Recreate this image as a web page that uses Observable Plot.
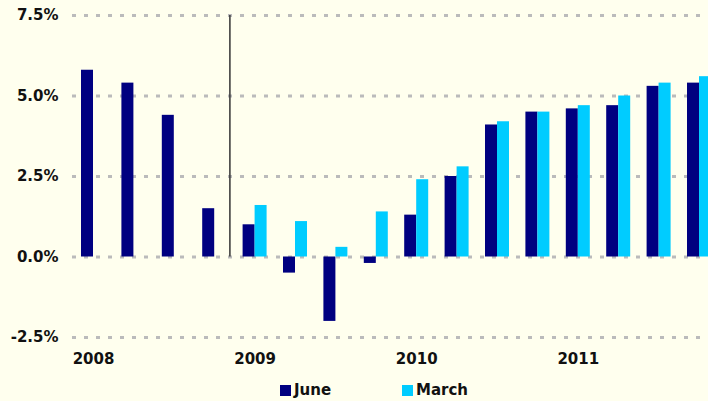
<!DOCTYPE html>
<html>
<head>
<meta charset="utf-8">
<script src="https://cdn.jsdelivr.net/npm/d3@7"></script>
<script src="https://cdn.jsdelivr.net/npm/@observablehq/plot@0.6"></script>
<style>
  html, body { margin: 0; padding: 0; background: #FFFFEE; }
  #wrap { position: relative; width: 708px; height: 401px; overflow: hidden; background: #FFFFEE; }
  #legend { position: absolute; left: 0; top: 378px; width: 708px; height: 23px;
            font-family: "DejaVu Sans", Verdana, sans-serif; font-weight: bold; font-size: 15px; color: #111; }
  .sw { position: absolute; top: 7px; width: 11px; height: 11px; }
  .lt { position: absolute; top: 3px; line-height: 18px; }
</style>
</head>
<body>
<div id="wrap"><div id="chart"></div><div id="legend"></div></div>
<script>
const quarters = ["2008Q1","2008Q2","2008Q3","2008Q4","2009Q1","2009Q2","2009Q3","2009Q4",
                  "2010Q1","2010Q2","2010Q3","2010Q4","2011Q1","2011Q2","2011Q3","2011Q4"];
const june  = [5.8, 5.4, 4.4, 1.5, 1.0, -0.5, -2.0, -0.2, 1.3, 2.5, 4.1, 4.5, 4.6, 4.7, 5.3, 5.4];
const march = [null, null, null, null, 1.6, 1.1, 0.3, 1.4, 2.4, 2.8, 4.2, 4.5, 4.7, 5.0, 5.4, 5.6];
const years = ["2008", "2009", "2010", "2011"];
const yTicks = [-2.5, 0, 2.5, 5, 7.5];
const seriesNames = ["June", "March"];
const seriesColors = ["#000080", "#00CCFF"];

const rows = quarters.map((q, i) => ({q, i, june: june[i], march: march[i]}));
const yearRows = years.map(y => ({year: y, i: quarters.indexOf(y + "Q1")}));
const barW = 0.297;

const chart = Plot.plot({
  width: 708,
  height: 378,
  marginTop: 15,
  marginBottom: 41,
  marginLeft: 72,
  marginRight: 0,
  style: {background: "#FFFFEE", fontFamily: "DejaVu Sans, Verdana, sans-serif", fontWeight: "bold", fontSize: "15px", color: "#111"},
  x: {type: "linear", domain: [0, 15], range: [93, 699], axis: null},
  y: {domain: [-2.5, 7.5]},
  marks: [
    Plot.ruleY(yTicks, {stroke: "#BBBBBB", strokeWidth: 3, strokeDasharray: "4 8"}),
    Plot.axisY({ticks: yTicks, tickSize: 0, tickPadding: 14, tickFormat: d => d.toFixed(1) + "%", fontSize: 15}),
    Plot.rect(rows, {x1: d => d.i - barW, x2: d => d.i, y1: 0, y2: d => d.june, fill: seriesColors[0]}),
    Plot.rect(rows.filter(d => d.march != null), {x1: d => d.i, x2: d => d.i + barW, y1: 0, y2: d => d.march, fill: seriesColors[1]}),
    Plot.ruleX([3.5], {y1: 0, y2: 7.5, dx: -5, stroke: "#333", strokeWidth: 1.5}),
    Plot.text(yearRows, {x: "i", y: -2.5, text: "year", dy: 22, fontSize: 15, fontWeight: "bold", fill: "#111"})
  ]
});
document.getElementById("chart").appendChild(chart);

const legend = document.getElementById("legend");
const pos = [[280, 294], [402, 416]];
seriesNames.forEach((name, k) => {
  const sw = document.createElement("div");
  sw.className = "sw"; sw.style.left = pos[k][0] + "px"; sw.style.background = seriesColors[k];
  const t = document.createElement("div");
  t.className = "lt"; t.style.left = pos[k][1] + "px"; t.textContent = name;
  legend.appendChild(sw); legend.appendChild(t);
});
</script>
</body>
</html>
